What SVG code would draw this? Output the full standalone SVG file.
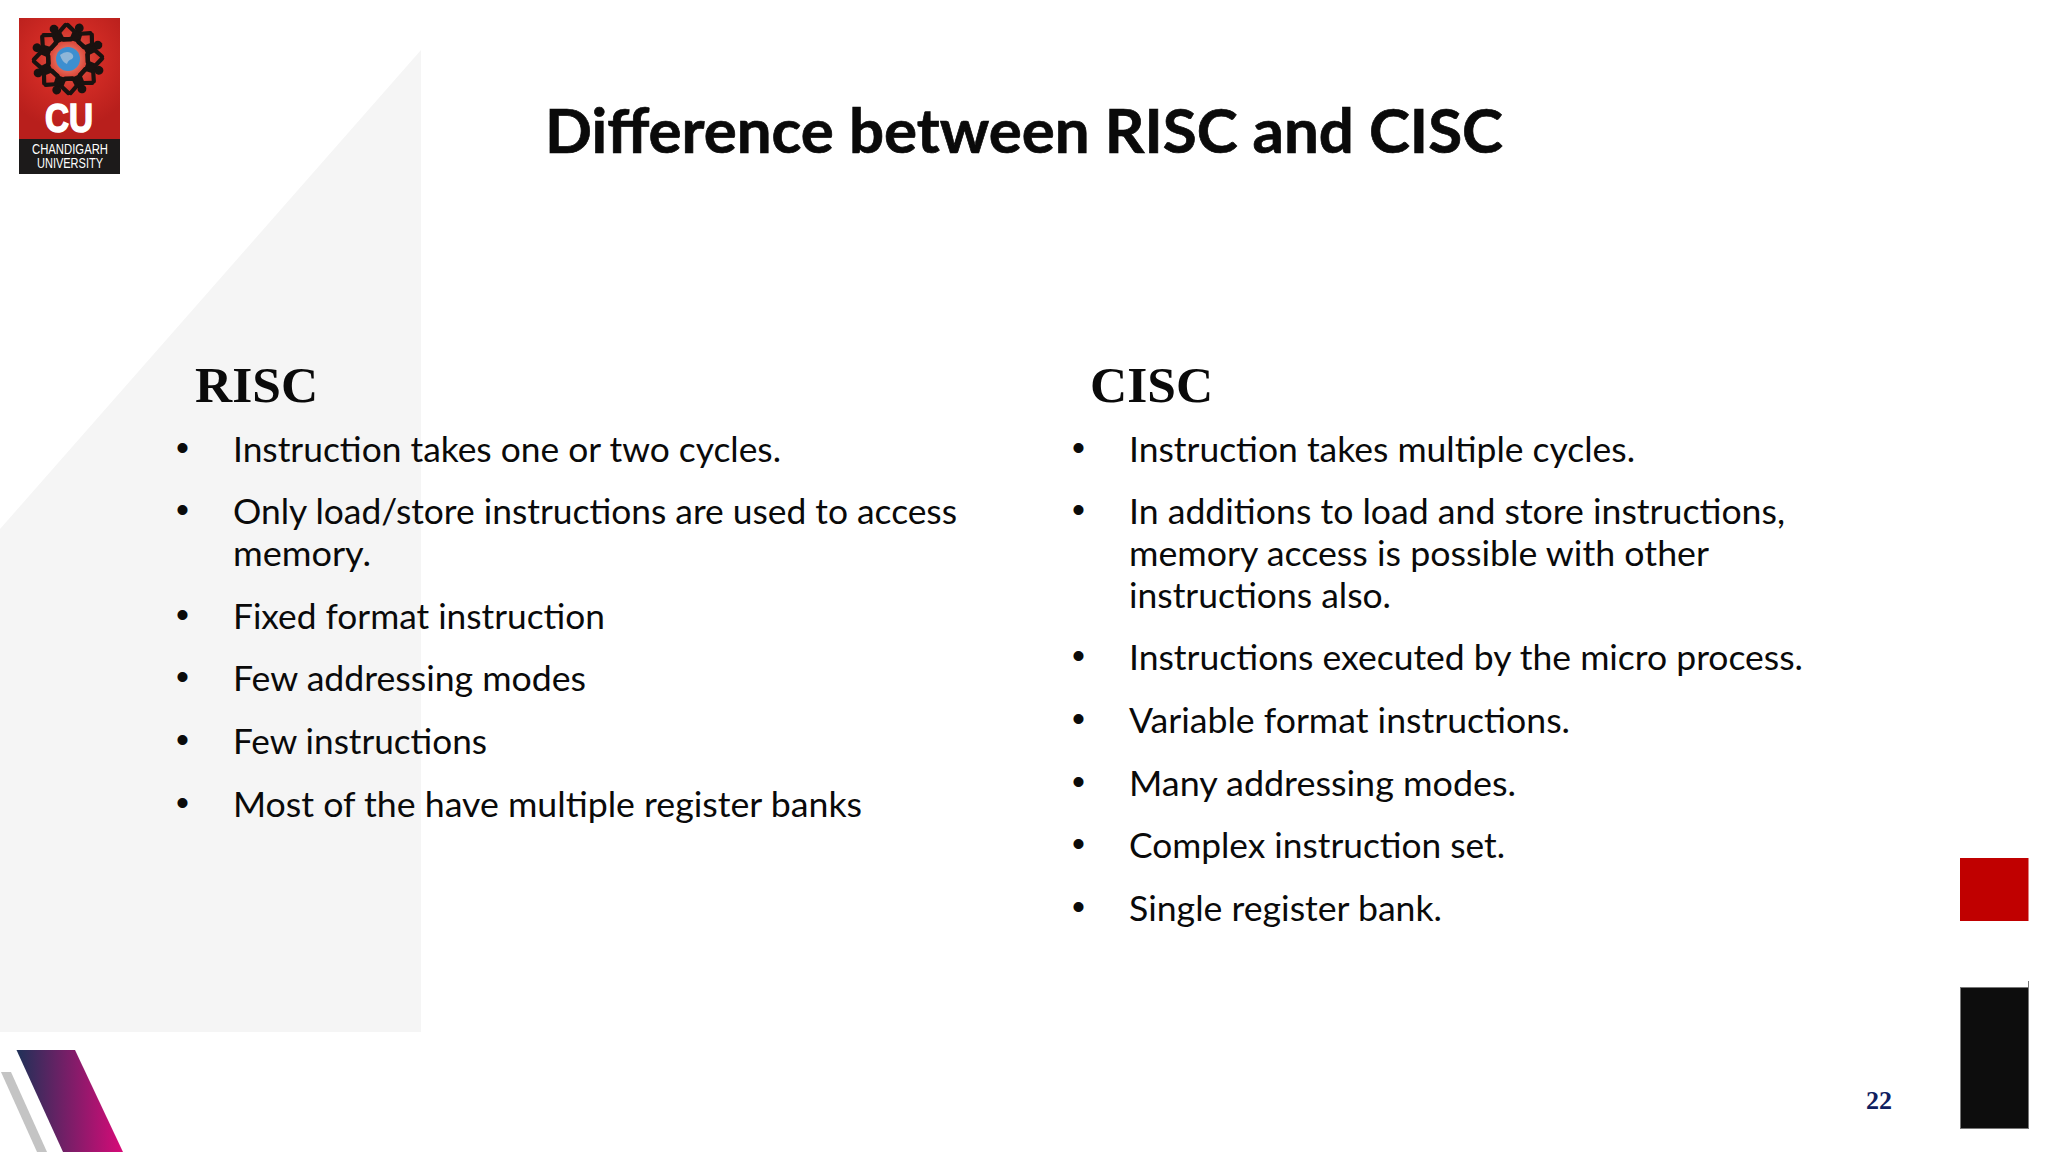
<svg xmlns="http://www.w3.org/2000/svg" xmlns:xlink="http://www.w3.org/1999/xlink" width="2048" height="1152" viewBox="0 0 2048 1152">
<style>
.t{font-family:"Lato","Carlito","Liberation Sans",sans-serif;font-size:34.5px;fill:#0a0a0a}
.b{font-family:"Liberation Sans",sans-serif;font-size:37px;fill:#0a0a0a}
.h{font-family:"Liberation Serif",serif;font-weight:700;font-size:51.5px;fill:#0a0a0a}
.lg{font-family:"Liberation Sans",sans-serif;fill:#fff}
</style>
<defs>
<linearGradient id="g" x1="0" y1="0" x2="1" y2="0"><stop offset="0" stop-color="#1f3158"/><stop offset="1" stop-color="#d80a78"/></linearGradient>
<radialGradient id="r" gradientUnits="userSpaceOnUse" cx="68" cy="59" r="70"><stop offset="0" stop-color="#f0a090"/><stop offset="0.25" stop-color="#dc4a3c"/><stop offset="0.5" stop-color="#cf2a24"/><stop offset="1" stop-color="#b81f1c"/></radialGradient>
<g id="fig"><circle cx="0" cy="-30" r="4" fill="#1a1210"/><path d="M-4.500-27L4.500-27L5-17L-5-17Z" fill="#1a1210"/><path d="M-3-25.500L-11-29M3-25.500L11-29M-4-18L-10-15M4-18L10-15" stroke="#1a1210" stroke-width="3.800" stroke-linecap="round" fill="none"/></g>
</defs>
<rect width="2048" height="1152" fill="#fff"/>
<polygon points="0,529 421,50 421,1032 0,1032" fill="#f5f5f5"/>
<polygon points="1,1072 11,1072 47,1152 37,1152" fill="#c4c4c4"/>
<polygon points="16.500,1050 75,1050 123,1152 63,1152" fill="url(#g)"/>
<g id="logo">
<rect x="19" y="18" width="101" height="122" fill="url(#r)"/>
<rect x="19" y="139" width="101" height="35" fill="#1c1a1a"/>
<use xlink:href="#fig" href="#fig" transform="translate(68 59) rotate(20) scale(1.1)"/>
<use xlink:href="#fig" href="#fig" transform="translate(68 59) rotate(65) scale(1.1)"/>
<use xlink:href="#fig" href="#fig" transform="translate(68 59) rotate(110) scale(1.1)"/>
<use xlink:href="#fig" href="#fig" transform="translate(68 59) rotate(155) scale(1.1)"/>
<use xlink:href="#fig" href="#fig" transform="translate(68 59) rotate(200) scale(1.1)"/>
<use xlink:href="#fig" href="#fig" transform="translate(68 59) rotate(245) scale(1.1)"/>
<use xlink:href="#fig" href="#fig" transform="translate(68 59) rotate(290) scale(1.1)"/>
<use xlink:href="#fig" href="#fig" transform="translate(68 59) rotate(335) scale(1.1)"/>
<circle cx="68" cy="59" r="12" fill="#3d8fd0"/>
<path d="M60 55q6-5 11-2q4 3 1 6q-4 1-5 5q-5-2-7-9Z" fill="#8fb6d8"/>
<text class="lg" x="45" y="132" font-size="40" font-weight="700" stroke="#fff" stroke-width="1.600" textLength="48" lengthAdjust="spacingAndGlyphs">CU</text>
<text class="lg" x="32" y="154" font-size="14.500" textLength="76" lengthAdjust="spacingAndGlyphs">CHANDIGARH</text>
<text class="lg" x="37" y="168" font-size="14.500" textLength="66" lengthAdjust="spacingAndGlyphs">UNIVERSITY</text>
</g>
<text id="title" x="545" y="153" font-family="Lato,Carlito,'Liberation Sans',sans-serif" font-weight="700" font-size="61" fill="#0a0a0a" stroke="#0a0a0a" stroke-width="0.700" textLength="958" lengthAdjust="spacingAndGlyphs">Difference between RISC and CISC</text>
<g id="risc">
<text class="h" x="195" y="402">RISC</text>
<text class="b" x="176" y="460">•</text><text class="t" x="233" y="462" textLength="548" lengthAdjust="spacingAndGlyphs">Instruction takes one or two cycles.</text>
<text class="b" x="176" y="522">•</text><text class="t" x="233" y="524" textLength="724" lengthAdjust="spacingAndGlyphs">Only load/store instructions are used to access</text>
<text class="t" x="233" y="566" textLength="138" lengthAdjust="spacingAndGlyphs">memory.</text>
<text class="b" x="176" y="627">•</text><text class="t" x="233" y="629" textLength="372" lengthAdjust="spacingAndGlyphs">Fixed format instruction</text>
<text class="b" x="176" y="689">•</text><text class="t" x="233" y="691" textLength="353" lengthAdjust="spacingAndGlyphs">Few addressing modes</text>
<text class="b" x="176" y="752">•</text><text class="t" x="233" y="754" textLength="254" lengthAdjust="spacingAndGlyphs">Few instructions</text>
<text class="b" x="176" y="815">•</text><text class="t" x="233" y="817" textLength="629" lengthAdjust="spacingAndGlyphs">Most of the have multiple register banks</text>
</g>
<g id="cisc">
<text class="h" x="1090" y="402">CISC</text>
<text class="b" x="1072" y="460">•</text><text class="t" x="1129" y="462" textLength="506" lengthAdjust="spacingAndGlyphs">Instruction takes multiple cycles.</text>
<text class="b" x="1072" y="522">•</text><text class="t" x="1129" y="524" textLength="656" lengthAdjust="spacingAndGlyphs">In additions to load and store instructions,</text>
<text class="t" x="1129" y="566" textLength="580" lengthAdjust="spacingAndGlyphs">memory access is possible with other</text>
<text class="t" x="1129" y="608" textLength="262" lengthAdjust="spacingAndGlyphs">instructions also.</text>
<text class="b" x="1072" y="668">•</text><text class="t" x="1129" y="670" textLength="674" lengthAdjust="spacingAndGlyphs">Instructions executed by the micro process.</text>
<text class="b" x="1072" y="731">•</text><text class="t" x="1129" y="733" textLength="441" lengthAdjust="spacingAndGlyphs">Variable format instructions.</text>
<text class="b" x="1072" y="794">•</text><text class="t" x="1129" y="796" textLength="387" lengthAdjust="spacingAndGlyphs">Many addressing modes.</text>
<text class="b" x="1072" y="856">•</text><text class="t" x="1129" y="858" textLength="376" lengthAdjust="spacingAndGlyphs">Complex instruction set.</text>
<text class="b" x="1072" y="919">•</text><text class="t" x="1129" y="921" textLength="313" lengthAdjust="spacingAndGlyphs">Single register bank.</text>
</g>
<rect id="red" x="1960" y="858" width="68.500" height="63" fill="#c00000"/>
<g id="black">
<rect x="1960.500" y="987.500" width="68" height="141" fill="#0d0d0d" stroke="#777" stroke-width="1"/>
<path d="M2028.500 981V988" stroke="#777" stroke-width="1"/>
</g>
<text id="page" x="1866" y="1109" font-family="'Liberation Serif',serif" font-weight="700" font-size="26" fill="#0f2060">22</text>
</svg>
